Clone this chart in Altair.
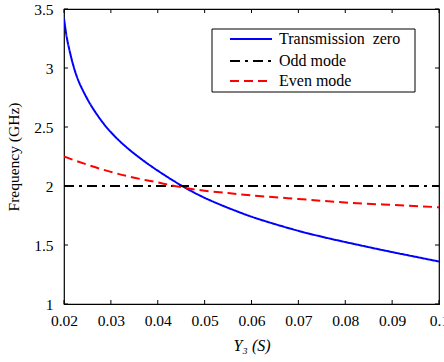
import altair as alt
import pandas as pd

# ---- data ----
x_tz = [0.020, 0.0205, 0.021, 0.0215, 0.022, 0.023, 0.0245, 0.026, 0.028, 0.030,
        0.032, 0.034, 0.0365, 0.040, 0.045, 0.050, 0.055, 0.060, 0.065, 0.070,
        0.075, 0.080, 0.085, 0.090, 0.095, 0.100]
y_tz = [3.42, 3.28, 3.18, 3.095, 3.02, 2.90, 2.773, 2.668, 2.552, 2.456,
        2.376, 2.306, 2.228, 2.13, 2.005, 1.90, 1.815, 1.74, 1.677, 1.62,
        1.57, 1.525, 1.482, 1.44, 1.40, 1.36]

x_odd = [0.02, 0.10]
y_odd = [2.0, 2.0]

x_even = [0.02, 0.025, 0.03, 0.035, 0.04, 0.045, 0.05, 0.055, 0.06, 0.07, 0.08, 0.09, 0.10]
y_even = [2.25, 2.18, 2.12, 2.07, 2.03, 1.99, 1.96, 1.94, 1.92, 1.89, 1.86, 1.84, 1.82]

series_names = ["Transmission\u00a0 zero", "Odd mode", "Even mode"]
series_colors = ["#0000ff", "#000000", "#ff0000"]
series_dashes = [[1, 0], [10, 5, 3, 5], [9, 5]]

x_ticks = [0.02, 0.03, 0.04, 0.05, 0.06, 0.07, 0.08, 0.09, 0.10]
y_ticks = [1, 1.5, 2, 2.5, 3, 3.5]

x_title = "Y₃ (S)"
y_title = "Frequency (GHz)"

W, H = 375, 295
FONT = "Liberation Serif"

rows = []
for name, xs, ys in [(series_names[0], x_tz, y_tz),
                     (series_names[1], x_odd, y_odd),
                     (series_names[2], x_even, y_even)]:
    for xv, yv in zip(xs, ys):
        rows.append({"Y3": xv, "f": yv, "series": name})
df = pd.DataFrame(rows)

xscale = alt.Scale(domain=[0.02, 0.1], nice=False, zero=False)
yscale = alt.Scale(domain=[1, 3.5], nice=False, zero=False)

lines = alt.Chart(df).mark_line(strokeWidth=2, interpolate="natural", clip=True).encode(
    x=alt.X("Y3:Q", scale=xscale,
            axis=alt.Axis(values=x_ticks, title=x_title, domain=False, ticks=False, tickSize=0,
                          grid=False, labelExpr="format(datum.value, '.2~f')",
                          labelFont=FONT, labelFontSize=15.5, labelColor="black",
                          labelPadding=9, labelFlush=False,
                          titleFont=FONT, titleFontSize=16, titleFontStyle="italic",
                          titleFontWeight="normal", titleColor="black", titlePadding=9)),
    y=alt.Y("f:Q", scale=yscale,
            axis=alt.Axis(values=y_ticks, title=y_title, domain=False, ticks=False, tickSize=0,
                          grid=False, labelExpr="format(datum.value, '~g')",
                          labelFont=FONT, labelFontSize=15.5, labelColor="black",
                          labelPadding=11, labelFlush=False,
                          titleFont=FONT, titleFontSize=15.5, titleFontWeight="normal",
                          titleColor="black", titlePadding=12)),
    color=alt.Color("series:N", scale=alt.Scale(domain=series_names, range=series_colors), legend=None),
    strokeDash=alt.StrokeDash("series:N", scale=alt.Scale(domain=series_names, range=series_dashes), legend=None),
    detail="series:N",
)

xt = pd.DataFrame({"v": x_ticks})
yt = pd.DataFrame({"v": y_ticks})
TL = 4
tick_bottom = alt.Chart(xt).mark_rule(color="black", strokeWidth=1).encode(
    x=alt.X("v:Q", scale=xscale), y=alt.value(H), y2=alt.value(H - TL))
tick_top = alt.Chart(xt).mark_rule(color="black", strokeWidth=1).encode(
    x=alt.X("v:Q", scale=xscale), y=alt.value(0), y2=alt.value(TL))
tick_left = alt.Chart(yt).mark_rule(color="black", strokeWidth=1).encode(
    y=alt.Y("v:Q", scale=yscale), x=alt.value(0), x2=alt.value(TL))
tick_right = alt.Chart(yt).mark_rule(color="black", strokeWidth=1).encode(
    y=alt.Y("v:Q", scale=yscale), x=alt.value(W), x2=alt.value(W - TL))

# ---- legend (drawn manually, MATLAB style box) ----
leg_df = pd.DataFrame({"series": series_names})
leg_box = alt.Chart(leg_df.head(1)).mark_rect(fill="white", stroke="black", strokeWidth=1).encode(
    x=alt.value(148), x2=alt.value(351), y=alt.value(20), y2=alt.value(83))
leg_rows_y = [30, 52, 72]
leg_layers = [leg_box]
for i, name in enumerate(series_names):
    d = pd.DataFrame({"series": [name]})
    leg_layers.append(alt.Chart(d).mark_rule(strokeWidth=2, color=series_colors[i],
                                             strokeDash=series_dashes[i]).encode(
        x=alt.value(166), x2=alt.value(208), y=alt.value(leg_rows_y[i])))
    leg_layers.append(alt.Chart(d).mark_text(align="left", baseline="middle", font=FONT,
                                             fontSize=16, color="black").encode(
        x=alt.value(215), y=alt.value(leg_rows_y[i]), text="series:N"))

chart = alt.layer(lines, tick_bottom, tick_top, tick_left, tick_right, *leg_layers).properties(
    width=W, height=H,
    autosize=alt.AutoSizeParams(type="none"),
    padding={"left": 64, "top": 9, "right": 5, "bottom": 58},
    background="white",
).configure_view(stroke="black", strokeWidth=1.2)

chart.save("out.html", embed_options={"renderer": "svg", "actions": False})
